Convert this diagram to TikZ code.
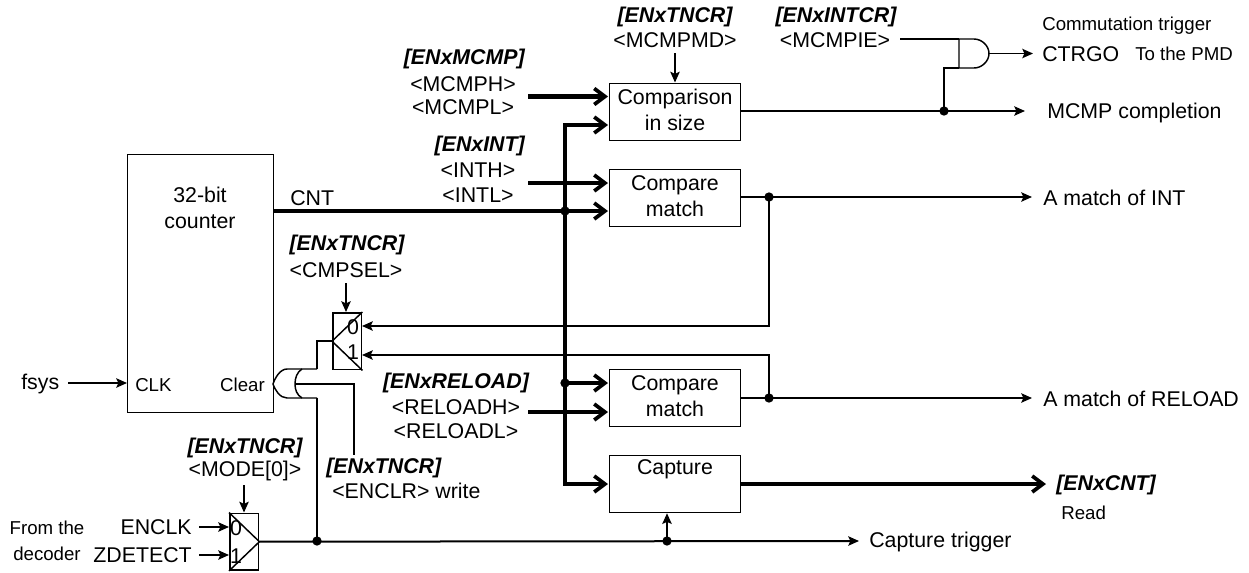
\documentclass[tikz,border=0pt]{standalone}
\usepackage{fontspec}
\setmainfont{Liberation Sans}
\usetikzlibrary{arrows.meta,calc}
\tikzset{
 x=0.75pt,y=-0.75pt,
 thin line/.style={line width=1.1pt},
 mid line/.style={line width=1.5pt},
 thick bus/.style={line width=3.2pt},
 tipa/.style={-{Stealth[length=8pt,width=7pt,inset=1.5pt]}},
 tipb/.style={-{Straight Barb[length=8pt,width=12pt,line width=2.8pt]}},
 blockbox/.style={draw,line width=0.9pt,fill=white,inner sep=0pt},
 lab/.style={font=\fontsize{16pt}{19.5pt}\selectfont,inner sep=0pt,align=center},
 smalllab/.style={font=\fontsize{14pt}{17pt}\selectfont,inner sep=0pt,align=center},
 reg/.style={font=\fontsize{16pt}{19.5pt}\selectfont\bfseries\itshape,inner sep=0pt},
 jdot/.style={circle,fill=black,inner sep=0pt,minimum size=7pt},
}
\begin{document}
\begin{tikzpicture}
\useasboundingbox (0,0) rectangle (1249,572);
% blocks
\node[blockbox,minimum width=109.5pt,minimum height=193.5pt,anchor=north west] (counter) at (127,154) {};
\node[blockbox,minimum width=98.5pt,minimum height=42.75pt,anchor=north west] (cmpsize) at (608.5,82.5) {};
\node[blockbox,minimum width=98.5pt,minimum height=42.75pt,anchor=north west] (cmpint) at (608.5,168.5) {};
\node[blockbox,minimum width=98.5pt,minimum height=42.75pt,anchor=north west] (cmpreload) at (608.5,369) {};
\node[blockbox,minimum width=98.5pt,minimum height=42.75pt,anchor=north west] (capture) at (608.5,455) {};
\node[lab] (tcounter) at (200,208) {32-bit\\counter};
\node[lab] (tcmpsize) at (675,110) {Comparison\\in size};
\node[lab] (tcmpint) at (675,196) {Compare\\match};
\node[lab] (tcmpreload) at (675,396.5) {Compare\\match};
\node[lab] (tcapture) at (675,469) {Capture};
% coordinates
\coordinate (busT) at (565,125);
\coordinate (busC) at (565,211);
\coordinate (busR) at (565,383);
\coordinate (busB) at (565,484);
\coordinate (cmpsA) at (608,96.5);
\coordinate (cmpsB) at (608,125);
\coordinate (cmpiA) at (608,183);
\coordinate (cmpiB) at (608,211);
\coordinate (cmprA) at (608,383);
\coordinate (cmprB) at (608,412);
\coordinate (capIn) at (608,484);
\coordinate (cntOut) at (273,211);
\coordinate (mcmpS) at (528,96.5);
\coordinate (intS) at (528,183);
\coordinate (relS) at (528,412);
% buses
\draw[thick bus] (cntOut) -- (busC);
\draw[thick bus,tipb] (busC) -- (cmpiB);
\draw[thick bus,tipb] (mcmpS) -- (cmpsA);
\draw[thick bus,tipb] (intS) -- (cmpiA);
\draw[thick bus,tipb] (relS) -- (cmprB);
\draw[thick bus,tipb] (busR) -- (cmprA);
\draw[thick bus,tipb] (busB) -- (capIn);
\draw[thick bus,line cap=rect] (busT) -- (busB);
\draw[thick bus,tipb] (busT) -- (cmpsB);
\node[jdot] (dC) at (busC) {};
\node[jdot] (dR) at (busR) {};
\coordinate (capOutS) at (741,484);
\coordinate (capOutE) at (1046,484);
\draw[thick bus,tipb] (capOutS) -- (capOutE);
% outputs
\coordinate (mcmpE) at (1025,111);
\coordinate (s1) at (741,111);
\draw[mid line,tipa] (s1) -- (mcmpE);
\node[jdot] (dM) at (944,111) {};
% AND gate
\coordinate (andA) at (959,39);
\coordinate (andB) at (959,68);
\coordinate (andOut) at (989,53.5);
\coordinate (ctrgoE) at (1033,53.5);
\draw[thin line,tipa] (andOut) -- (ctrgoE);
\coordinate (mcmpie) at (900,39);
\draw[thin line] (mcmpie) -- (andA);
\draw[mid line] (dM.center) |- (andB);
\draw[line width=1.1pt] (andA) -- (974,39) .. controls (982,39) and (989,46) .. (andOut) .. controls (989,61) and (982,68) .. (974,68) -- (andB) -- cycle;
% INT
\coordinate (i1) at (741,197);
\coordinate (iE) at (1032,197);
\draw[mid line,tipa] (i1) -- (iE);
\node[jdot] (dI) at (769,197) {};
% reload
\coordinate (r1) at (741,398);
\coordinate (rE) at (1032,398);
\draw[mid line,tipa] (r1) -- (rE);
\node[jdot] (dRl) at (769,398) {};
% mux upper
\node[draw,line width=1.3pt,minimum width=21.5pt,minimum height=42.5pt,inner sep=0pt,anchor=north west] (muxU) at (332,312) {};
\draw[line width=1.1pt] (muxU.north east) -- (muxU.west) -- (muxU.south east);
\node[lab] (m0) at (353,327) {0};
\node[lab] (m1) at (353,352) {1};
\coordinate (mu0) at (362,326);
\coordinate (mu1) at (362,355);
\draw[mid line,tipa] (dI.center) |- (mu0);
\draw[mid line,tipa] (dRl.center) |- (mu1);
% mux lower
\node[draw,line width=1.3pt,minimum width=21.5pt,minimum height=42.5pt,inner sep=0pt,anchor=north west] (muxL) at (229,512.5) {};
\draw[line width=1.1pt] (muxL.north west) -- (muxL.east) -- (muxL.south west);
\node[lab] (l0) at (236,528) {0};
\node[lab] (l1) at (236,556) {1};
\coordinate (ml0) at (229,527);
\coordinate (ml1) at (229,555);
\coordinate (encS) at (199,527);
\coordinate (zdS) at (199,555);
\draw[mid line,tipa] (encS) -- (ml0);
\draw[mid line,tipa] (zdS) -- (ml1);
% trigger
\coordinate (trE) at (859,541);
\draw[mid line,tipa] (muxL.east) -- (trE);
\node[jdot] (dT) at (317,541) {};
\node[jdot] (dCap) at (667,541) {};
\draw[mid line,tipa] (dCap.center) -- (capture.south-|dCap);
% clear gate
\coordinate (cA) at (287,369);
\coordinate (cB) at (287,398);
\coordinate (cTip) at (273,384);
\draw[line width=1.1pt] (317,369) -- (cA) .. controls (280,369) and (275,378) .. (cTip) .. controls (275,390) and (280,398) .. (cB) -- (317,398);
\draw[line width=1.1pt] (302,369) .. controls (297,372) and (295,378) .. (295,384) .. controls (295,390) and (297,395) .. (302,398);
\coordinate (clrE) at (354,455);
\draw[line width=1.1pt] (295,384) -| (clrE);
\draw[mid line] (muxU.west) -| (317,369);
\draw[mid line] (317,398) -- (dT.center);
% control arrows
\coordinate (p1) at (675,53);
\draw[mid line,tipa] (p1) -- (cmpsize.north-|p1);
\coordinate (p2) at (346,283);
\draw[mid line,tipa] (p2) -- (muxU.north-|p2);
\coordinate (p3) at (244,485);
\draw[mid line,tipa] (p3) -- (muxL.north-|p3);
\coordinate (fsysS) at (68,383);
\coordinate (fsysE) at (127,383);
\draw[mid line,tipa] (fsysS) -- (fsysE);
% labels
\node[reg,anchor=east] (r1l) at (525,59) {[ENxMCMP]};
\node[lab] (r1a) at (463,84.5) {<MCMPH>};
\node[lab] (r1b) at (463,107.5) {<MCMPL>};
\node[reg,anchor=east] (r2l) at (525,146) {[ENxINT]};
\node[lab] (r2a) at (478,170) {<INTH>};
\node[lab] (r2b) at (478,195) {<INTL>};
\node[reg] (r3l) at (675,16.5) {[ENxTNCR]};
\node[lab] (r3a) at (675,40.5) {<MCMPMD>};
\node[reg] (r4l) at (836,16.5) {[ENxINTCR]};
\node[lab] (r4a) at (835,40.5) {<MCMPIE>};
\node[reg] (r5l) at (347,245) {[ENxTNCR]};
\node[lab] (r5a) at (346,270) {<CMPSEL>};
\node[reg] (r6l) at (456,383) {[ENxRELOAD]};
\node[lab] (r6a) at (456,407) {<RELOADH>};
\node[lab] (r6b) at (456,431) {<RELOADL>};
\node[reg] (r7l) at (245,448) {[ENxTNCR]};
\node[lab] (r7a) at (245,471) {<MODE[0]>};
\node[reg,anchor=west] (r8l) at (326,468) {[ENxTNCR]};
\node[lab,anchor=west] (r8a) at (332,491) {<ENCLR> write};
\node[reg,anchor=west] (cntl) at (1056,485) {[ENxCNT]};
\node[smalllab,anchor=west] (cntr) at (1061,513) {Read};
\node[smalllab,anchor=west] (ct) at (1042,26) {Commutation trigger};
\node[lab,anchor=west] (ctrgo) at (1042,54) {CTRGO};
\node[smalllab,anchor=west] (pmd) at (1135,54) {To the PMD};
\node[lab,anchor=west] (mc) at (1047,113) {MCMP completion};
\node[lab,anchor=west] (ami) at (1043,198) {A match of INT};
\node[lab,anchor=west] (amr) at (1043,399) {A match of RELOAD};
\node[lab,anchor=west] (ctr) at (869,542) {Capture trigger};
\node[lab,anchor=west] (cnt) at (290,198) {CNT};
\node[smalllab,anchor=west] (clk) at (135,385) {CLK};
\node[smalllab,anchor=east] (clr) at (265,385) {Clear};
\node[lab,anchor=west] (fs) at (21,384) {fsys};
\node[smalllab] (fd1) at (47,528) {From the};
\node[smalllab] (fd2) at (47,554) {decoder};
\node[lab,anchor=east] (enc) at (192,527) {ENCLK};
\node[lab,anchor=east] (zd) at (192,555) {ZDETECT};
\end{tikzpicture}
\end{document}
